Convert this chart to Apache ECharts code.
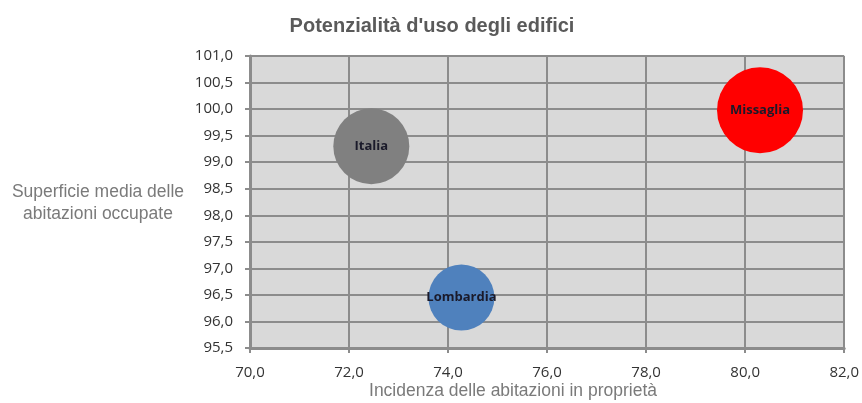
<!DOCTYPE html>
<html>
<head>
<meta charset="utf-8">
<script src="https://cdn.jsdelivr.net/npm/echarts@6/dist/echarts.min.js"></script>
<style>html,body{margin:0;padding:0;background:#fff}#c{width:862px;height:403px}</style>
</head>
<body>
<div id="c"></div>
<script>
const names = ["Italia", "Lombardia", "Missaglia"];
const xValues = [72.45, 74.27, 80.3];
const yValues = [99.3, 96.45, 99.98];
const bubbleValues = [76, 66, 86];
const colors = ["#808080", "#4f81bd", "#ff0000"];

const chart = echarts.init(document.getElementById('c'));
const fmt = v => v.toFixed(1).replace('.', ',');
const nameFont = '17.5px "Liberation Sans"';
chart.setOption({
  animation: false,
  title: {
    text: "Potenzialità d'uso degli edifici",
    left: 427, top: 11, textAlign: 'center',
    textStyle: {fontFamily: 'Liberation Sans', fontSize: 20, fontWeight: 'bold', color: '#5a5a5a'}
  },
  graphic: [
    {type: 'text', x: 98, y: 183, style: {text: 'Superficie media delle', align: 'center',
      font: nameFont, fill: '#7a7a7a'}},
    {type: 'text', x: 98, y: 205, style: {text: 'abitazioni occupate', align: 'center',
      font: nameFont, fill: '#7a7a7a'}},
    {type: 'text', x: 513, y: 382, style: {text: 'Incidenza delle abitazioni in proprietà', align: 'center',
      font: nameFont, fill: '#7a7a7a'}}
  ],
  grid: {left: 250, right: 13, top: 56, bottom: 55, backgroundColor: '#d9d9d9', show: true, borderWidth: 0},
  xAxis: {
    type: 'value', min: 70, max: 82, interval: 2,
    axisLine: {show: true, lineStyle: {color: '#8c8c8c', width: 3}},
    axisTick: {show: true, length: 5, lineStyle: {color: '#8c8c8c', width: 2}},
    axisLabel: {formatter: fmt, fontFamily: 'Open Sans', fontSize: 15, color: '#333', margin: 17},
    splitLine: {show: true, lineStyle: {color: '#8c8c8c', width: 2}}
  },
  yAxis: {
    type: 'value', min: 95.5, max: 101, interval: 0.5,
    axisLine: {show: true, lineStyle: {color: '#8c8c8c', width: 3}},
    axisTick: {show: true, length: 5, lineStyle: {color: '#8c8c8c', width: 2}},
    axisLabel: {formatter: fmt, fontFamily: 'Open Sans', fontSize: 15, color: '#333', margin: 17},
    splitLine: {show: true, lineStyle: {color: '#8c8c8c', width: 2}}
  },
  series: [{
    type: 'scatter',
    data: names.map((n, i) => ({
      name: n, value: [xValues[i], yValues[i], bubbleValues[i]],
      itemStyle: {color: colors[i], opacity: 1}
    })),
    symbolSize: v => v[2],
    label: {show: true, position: 'inside', formatter: p => p.name,
      fontFamily: 'Open Sans', fontSize: 13, fontWeight: 'bold', color: '#1a1a2a'}
  }]
});
</script>
</body>
</html>
